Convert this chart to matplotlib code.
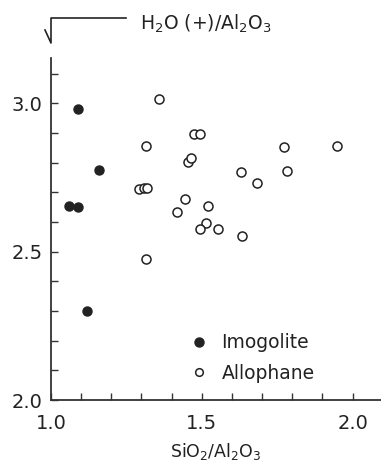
import numpy as np
import matplotlib
matplotlib.use("Agg")
import matplotlib.pyplot as plt
from matplotlib.ticker import MultipleLocator
from matplotlib.lines import Line2D

# imogolite (filled)
imo_x = [1.09, 1.16, 1.06, 1.09, 1.12]
imo_y = [2.98, 2.775, 2.655, 2.65, 2.30]

# allophane (open)
allo_x = [1.357, 1.315, 1.473, 1.493, 1.772, 1.947, 1.454, 1.465, 1.631, 1.783,
          1.682, 1.293, 1.307, 1.318, 1.445, 1.418, 1.522, 1.515, 1.493, 1.555,
          1.634, 1.315]
allo_y = [3.015, 2.857, 2.896, 2.896, 2.854, 2.857, 2.804, 2.817, 2.767, 2.773,
          2.733, 2.712, 2.714, 2.714, 2.676, 2.635, 2.654, 2.596, 2.578, 2.576,
          2.553, 2.475]

plt.rcParams['font.family'] = ['DejaVu Sans']
plt.rcParams['mathtext.default'] = 'regular'

fig = plt.figure(figsize=(3.81, 4.66), dpi=100)
ax = fig.add_axes([51/381, 66/466, 330/381, 342/466])

ax.plot(imo_x, imo_y, 'o', color='#222222', ms=6.5, ls='none', clip_on=False)
ax.plot(allo_x, allo_y, 'o', mfc='white', mec='#222222', mew=1.1, ms=6.5,
        ls='none', clip_on=False)

ax.set_xlim(1.0, 2.094)
ax.set_ylim(2.0, 3.153)
ax.spines['top'].set_visible(False)
ax.spines['right'].set_visible(False)
for s in ['left', 'bottom']:
    ax.spines[s].set_linewidth(1.3)
    ax.spines[s].set_color('#333333')

ax.xaxis.set_major_locator(MultipleLocator(0.5))
ax.xaxis.set_minor_locator(MultipleLocator(0.1))
ax.yaxis.set_major_locator(MultipleLocator(0.5))
ax.yaxis.set_minor_locator(MultipleLocator(0.1))
ax.xaxis.set_major_formatter(lambda v, p: '%.1f' % v)
ax.yaxis.set_major_formatter(lambda v, p: '%.1f' % v)
ax.tick_params(which='both', direction='in', length=5, width=1, color='#333333')
ax.tick_params(axis='x', which='major', pad=10, labelsize=14, labelcolor='#222222')
ax.tick_params(axis='y', which='major', pad=6, labelsize=14, labelcolor='#222222')

ax.set_xlabel('SiO$_2$/Al$_2$O$_3$', fontsize=12.5, color='#222222', labelpad=6)

# radical-like mark with y label
fig.add_artist(Line2D([45/381, 51/381, 51/381, 126/381],
                      [1-30/466, 1-43/466, 1-18/466, 1-18/466],
                      color='#222222', lw=1.2))
fig.text(140/381, 1-24/466, 'H$_2$O (+)/Al$_2$O$_3$', fontsize=13.5,
         color='#222222', va='center', ha='left')

h1 = Line2D([], [], marker='o', color='#222222', ls='none', ms=6.5)
h2 = Line2D([], [], marker='o', mfc='white', mec='#222222', mew=1.1, ls='none', ms=5.5)
ax.legend([h1, h2], ['Imogolite', 'Allophane'], loc='upper left',
          bbox_to_anchor=(0.42, 0.195), frameon=False, fontsize=13.5,
          handlelength=1.0, handletextpad=0.7, borderpad=0, borderaxespad=0,
          labelspacing=0.6, labelcolor='#222222')

fig.savefig('out.png', dpi=100)
